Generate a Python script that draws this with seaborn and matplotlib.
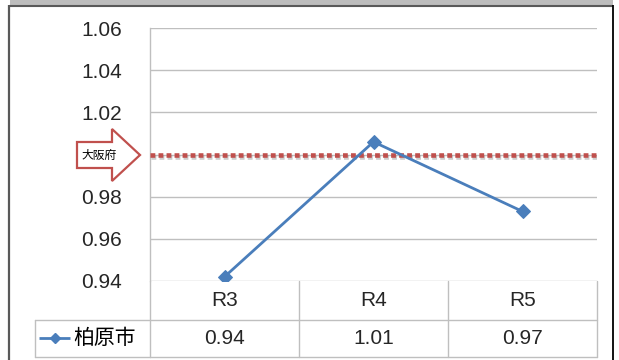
import matplotlib
matplotlib.use("Agg")
import matplotlib.pyplot as plt
import matplotlib.patheffects as pe
from matplotlib.patches import Polygon, Rectangle
from matplotlib.lines import Line2D
import seaborn as sns
import pandas as pd

# Data
years = ["R3", "R4", "R5"]
kashiwara = [0.942, 1.006, 0.973]
osaka_level = 1.00
series_name = "柏原市"
ref_name = "大阪府"
y_ticks = [0.94, 0.96, 0.98, 1.00, 1.02, 1.04, 1.06]

sns.set_theme(style="white")
plt.rcParams["font.family"] = ["Liberation Sans", "DejaVu Sans"]
JP = ["Noto Sans CJK JP", "DejaVu Sans"]

BLUE = "#4A7EBB"
RED = "#C0504D"
GRID = "#BFBFBF"
W, H = 619, 360

fig = plt.figure(figsize=(W / 100, H / 100), dpi=100)
fig.patch.set_facecolor("white")

# Main chart
left, right, top, bottom = 150, 597, 28, 281
ax = fig.add_axes([left / W, (H - bottom) / H, (right - left) / W, (bottom - top) / H],
                  zorder=1)
ax.patch.set_alpha(0)

df = pd.DataFrame({"year": years, "value": kashiwara})
sns.lineplot(data=df, x="year", y="value", ax=ax, color=BLUE, lw=2,
             marker="D", markersize=7, markeredgecolor=BLUE, sort=False, zorder=4)

ref = ax.axhline(osaka_level, color=RED, lw=3.3, linestyle=(0, (1.05, 0.7)),
                 dash_capstyle="butt", zorder=3)
ref.set_path_effects([pe.SimpleLineShadow(offset=(0.5, -2), shadow_color="gray", alpha=0.4),
                      pe.Normal()])

ax.set_xlim(-0.5, len(years) - 0.5)
ax.set_ylim(y_ticks[0], y_ticks[-1])
ax.set_yticks(y_ticks)
# the 1.00 label sits under the prefecture callout arrow
ax.set_yticklabels(["" if abs(t - osaka_level) < 1e-9 else f"{t:.2f}" for t in y_ticks],
                   fontsize=15)
ax.tick_params(axis="y", length=0, pad=20)
ax.set_xticks([])
ax.set_xlabel("")
ax.set_ylabel("")
for t in y_ticks:
    ax.axhline(t, color=GRID, lw=1, zorder=1)
for s in ["top", "right", "bottom"]:
    ax.spines[s].set_visible(False)
ax.spines["left"].set_color(GRID)
ax.spines["left"].set_linewidth(1)

# Data table under the plot: category row and value row
tr = ax.get_xaxis_transform()
h_px = bottom - top
row1 = -(320 - bottom) / h_px
row2 = -(357 - bottom) / h_px
for yy in (row1, row2):
    ax.add_line(Line2D([-0.5, len(years) - 0.5], [yy, yy], transform=tr,
                       color=GRID, lw=1, clip_on=False))
for xx in [i - 0.5 for i in range(len(years) + 1)]:
    ax.add_line(Line2D([xx, xx], [0, row2], transform=tr,
                       color=GRID, lw=1, clip_on=False))
for i, (yr, v) in enumerate(zip(years, kashiwara)):
    ax.text(i, row1 / 2, yr, transform=tr, ha="center", va="center",
            fontsize=15, clip_on=False)
    ax.text(i, (row1 + row2) / 2, f"{v:.2f}", transform=tr, ha="center",
            va="center", fontsize=15, clip_on=False)

# Pixel-space overlay for the frame, the arrow callout and the legend cell
ov = fig.add_axes([0, 0, 1, 1], zorder=2)
ov.patch.set_alpha(0)
ov.set_xlim(0, W)
ov.set_ylim(H, 0)
ov.axis("off")

ov.add_patch(Rectangle((10, 0), 603, 5, facecolor="#BDBDBD", edgecolor="none"))
ov.plot([9, 613], [5.5, 5.5], color="#595959", lw=1.5, solid_capstyle="butt")
ov.plot([9, 9], [5, H], color="#595959", lw=1.6, solid_capstyle="butt")
ov.plot([613, 613], [5, H], color="black", lw=1.3, solid_capstyle="butt")

# Block arrow pointing at the prefecture reference line
arrow = Polygon([(77, 142), (112, 142), (112, 129), (140, 155),
                 (112, 181), (112, 168), (77, 168)],
                closed=True, facecolor="white", edgecolor=RED, lw=1.6)
ov.add_patch(arrow)
ov.text(99, 155.5, ref_name, family=JP, fontsize=8.5, ha="center", va="center",
        color="black")

# Legend cell of the data table
ov.plot([35, 150], [320, 320], color=GRID, lw=1)
ov.plot([35, 150], [357, 357], color=GRID, lw=1)
ov.plot([35, 35], [320, 357], color=GRID, lw=1)
ov.plot([39, 70], [338, 338], color=BLUE, lw=2, solid_capstyle="butt")
ov.plot([55], [338], marker="D", ms=5.5, color=BLUE)
ov.text(73, 338, series_name, family=JP, fontsize=15, ha="left", va="center",
        color="black")

fig.savefig("out.png", dpi=100)
